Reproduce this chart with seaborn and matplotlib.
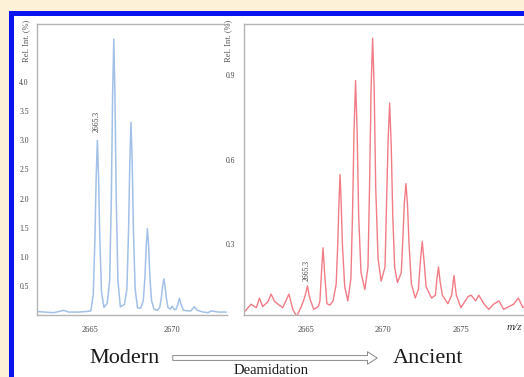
import numpy as np
import pandas as pd
import matplotlib
matplotlib.use("Agg")
import matplotlib.pyplot as plt
from matplotlib.patches import Rectangle, FancyArrowPatch
import seaborn as sns

# Modern spectrum: m/z and relative intensity (%)
modern_mz = [2661.8, 2662.2, 2662.8, 2663.4, 2663.7, 2664.3, 2664.8,
             2665.05, 2665.2, 2665.3, 2665.38, 2665.45, 2665.52, 2665.6, 2665.7, 2665.85,
             2666.05, 2666.2, 2666.3, 2666.38, 2666.45, 2666.52, 2666.6, 2666.7, 2666.85,
             2667.1, 2667.25, 2667.35, 2667.43, 2667.5, 2667.57, 2667.65, 2667.75, 2667.9,
             2668.1, 2668.25, 2668.35, 2668.43, 2668.5, 2668.57, 2668.65, 2668.75, 2668.9,
             2669.1, 2669.25, 2669.35, 2669.43, 2669.5, 2669.57, 2669.65, 2669.75, 2669.9,
             2670.0, 2670.15, 2670.25, 2670.35, 2670.45, 2670.55, 2670.7, 2671.0,
             2671.15, 2671.35, 2671.55, 2671.9, 2672.2, 2672.4, 2672.6, 2672.8, 2673.0, 2673.3]
modern_int = [0.06, 0.05, 0.04, 0.08, 0.05, 0.05, 0.06,
              0.07, 0.35, 1.3, 2.4, 3.0, 2.4, 1.3, 0.4, 0.13,
              0.2, 0.6, 2.0, 3.8, 4.74, 3.8, 2.0, 0.6, 0.14,
              0.18, 0.45, 1.45, 2.65, 3.31, 2.65, 1.45, 0.45, 0.12,
              0.12, 0.25, 0.65, 1.2, 1.48, 1.2, 0.65, 0.25, 0.1,
              0.08, 0.13, 0.3, 0.5, 0.62, 0.5, 0.3, 0.13, 0.1,
              0.15, 0.09, 0.1, 0.18, 0.29, 0.18, 0.08, 0.07,
              0.07, 0.14, 0.08, 0.05, 0.04, 0.07, 0.06, 0.05, 0.05, 0.05]

# Ancient spectrum
ancient_mz = [2660.9, 2661.1, 2661.45, 2661.8, 2662.0, 2662.2, 2662.55, 2662.75, 2662.95,
              2663.2, 2663.5, 2663.9, 2664.15, 2664.4, 2664.7,
              2664.9, 2665.0, 2665.1, 2665.2, 2665.3, 2665.5, 2665.8,
              2665.9, 2666.0, 2666.1, 2666.2, 2666.35, 2666.55, 2666.75,
              2666.95, 2667.05, 2667.13, 2667.2, 2667.27, 2667.35, 2667.5, 2667.7,
              2667.9, 2668.0, 2668.1, 2668.2, 2668.3, 2668.4, 2668.55, 2668.8,
              2669.0, 2669.1, 2669.2, 2669.3, 2669.4, 2669.5, 2669.65, 2669.85,
              2670.1, 2670.2, 2670.3, 2670.4, 2670.5, 2670.6, 2670.72, 2670.9,
              2671.15, 2671.25, 2671.35, 2671.45, 2671.55, 2671.65, 2671.8, 2672.05,
              2672.25, 2672.38, 2672.5, 2672.62, 2672.75, 2673.1,
              2673.35, 2673.45, 2673.55, 2673.65, 2673.8, 2674.15,
              2674.4, 2674.55, 2674.7, 2675.0, 2675.45, 2675.65, 2675.95, 2676.15,
              2676.5, 2676.8, 2677.1, 2677.45, 2677.75, 2678.1, 2678.4, 2678.7, 2679.0, 2679.3]
ancient_int = [0.06, 0.065, 0.088, 0.076, 0.11, 0.08, 0.097, 0.124, 0.1,
               0.088, 0.076, 0.124, 0.07, 0.045, 0.08,
               0.11, 0.13, 0.153, 0.12, 0.1, 0.07, 0.08,
               0.1, 0.2, 0.288, 0.2, 0.09, 0.085, 0.1,
               0.16, 0.3, 0.45, 0.547, 0.45, 0.3, 0.15, 0.1,
               0.18, 0.4, 0.7, 0.88, 0.7, 0.4, 0.2, 0.14,
               0.22, 0.5, 0.85, 1.03, 0.85, 0.5, 0.25, 0.17,
               0.22, 0.45, 0.67, 0.80, 0.65, 0.4, 0.22, 0.165,
               0.2, 0.32, 0.45, 0.515, 0.44, 0.3, 0.16, 0.11,
               0.14, 0.24, 0.31, 0.24, 0.15, 0.11,
               0.12, 0.18, 0.22, 0.17, 0.12, 0.09,
               0.12, 0.19, 0.12, 0.076, 0.115, 0.12, 0.1, 0.12,
               0.088, 0.07, 0.088, 0.1, 0.07, 0.08, 0.088, 0.11, 0.076, 0.09]

modern_yticks = [0.5, 1.0, 1.5, 2.0, 2.5, 3.0, 3.5, 4.0]
ancient_yticks = [0.3, 0.6, 0.9]
modern_xticks = [2665, 2670]
ancient_xticks = [2665, 2670, 2675]

sns.set_style("white")
plt.rcParams['font.family'] = ['Liberation Serif', 'DejaVu Serif']

fig = plt.figure(figsize=(5.24, 3.77), dpi=100)
fig.patch.set_facecolor('#fdf1d8')
# blue frame and white panel, behind the axes
fig.patches.append(Rectangle((0.017, 0.0), 0.983, 0.971, transform=fig.transFigure,
                             facecolor='#0a14f0', edgecolor='none', zorder=-2))
fig.patches.append(Rectangle((0.0267, 0.0), 0.9733, 0.9576, transform=fig.transFigure,
                             facecolor='white', edgecolor='none', zorder=-1))

ax1 = fig.add_axes([0.0706, 0.1645, 0.3626, 0.7718])
ax2 = fig.add_axes([0.4656, 0.1645, 0.56, 0.7718])

df_modern = pd.DataFrame({'mz': modern_mz, 'intensity': modern_int})
df_ancient = pd.DataFrame({'mz': ancient_mz, 'intensity': ancient_int})

sns.lineplot(data=df_modern, x='mz', y='intensity', ax=ax1, color='#a2c0e8', linewidth=1.1, sort=False)
sns.lineplot(data=df_ancient, x='mz', y='intensity', ax=ax2, color='#f27c86', linewidth=1.0, sort=False)

ax1.set_xlim(2661.77, 2673.35)
ax1.set_ylim(0, 5.0)
ax2.set_xlim(2661.0, 2661.0 + 0.56 * 524 / 15.5)
ax2.set_ylim(0.05, 1.08)

for ax, xt, yt in [(ax1, modern_xticks, modern_yticks), (ax2, ancient_xticks, ancient_yticks)]:
    ax.set_facecolor('none')
    ax.set_xticks(xt)
    ax.set_yticks(yt)
    ax.set_xticklabels([str(v) for v in xt])
    ax.set_yticklabels([f"{v:.1f}" for v in yt])
    ax.set_xlabel('')
    ax.set_ylabel('')
    ax.tick_params(axis='both', length=2, width=0.6, color='#b0b0b0', labelsize=5.5,
                   labelcolor='#444444', direction='out')
    ax.tick_params(axis='x', pad=6, labelsize=6)
    ax.tick_params(axis='y', pad=4)
    for side in ['left', 'top', 'bottom']:
        ax.spines[side].set_color('#b4b4b4')
        ax.spines[side].set_linewidth(1.0)
    ax.spines['right'].set_visible(False)
    ax.text(-0.055, 1.015, 'Rel. Int. (%)', transform=ax.transAxes, rotation=90,
            ha='center', va='top', fontsize=6, color='#555555')

ax1.text(2665.4, 3.15, '2665.3', rotation=90, ha='center', va='bottom', fontsize=5.5, color='#444444')
ax2.text(2665.05, 0.17, '2665.3', rotation=90, ha='center', va='bottom', fontsize=5.5, color='#444444')
fig.text(514 / 524, (377 - 327) / 377, 'm/z', ha='center', va='center',
         fontsize=8, style='italic', color='#333333')

# bottom caption with arrow
fig.text(124 / 524, 0.036, 'Modern', ha='center', va='baseline', fontsize=16, color='#1a1a1a')
fig.text(428 / 524, 0.036, 'Ancient', ha='center', va='baseline', fontsize=16, color='#1a1a1a')
fig.text(271 / 524, 0.008, 'Deamidation', ha='center', va='baseline', fontsize=10.5, color='#1a1a1a')
fig.add_artist(FancyArrowPatch(
    (170 / 524, (377 - 358) / 377), (380 / 524, (377 - 358) / 377), transform=fig.transFigure,
    arrowstyle='simple,head_width=0.9,head_length=0.7,tail_width=0.35', mutation_scale=10,
    facecolor='white', edgecolor='#8a8a8a', linewidth=0.7))

fig.savefig('out.png', dpi=100, facecolor=fig.get_facecolor())
